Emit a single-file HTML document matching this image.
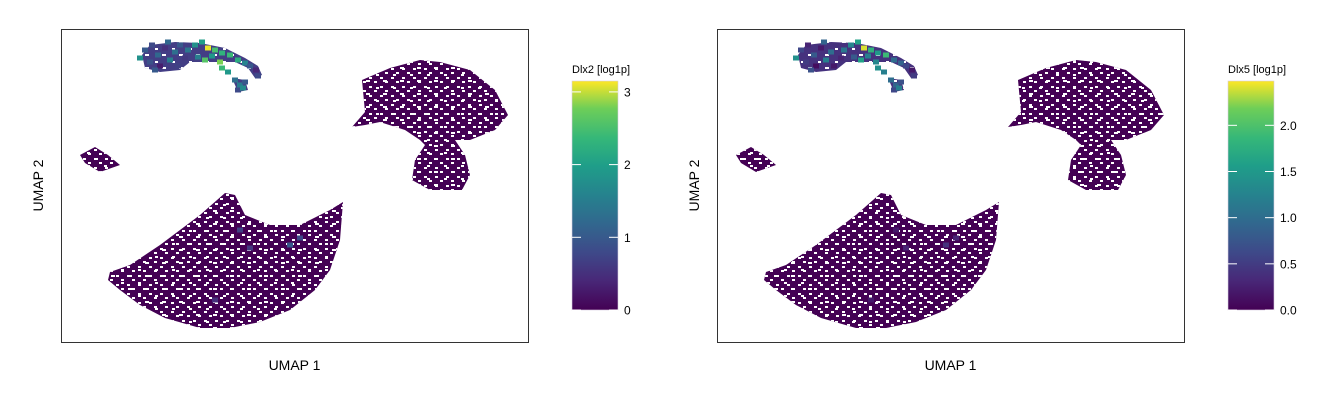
<!DOCTYPE html>
<html><head><meta charset="utf-8"><style>
html,body{margin:0;padding:0;background:#fff;}
svg{display:block;font-family:"Liberation Sans",sans-serif;}
</style></head><body>
<svg id="chart" width="1344" height="403" viewBox="0 0 1344 403">
<defs>
<linearGradient id="vir" x1="0" y1="1" x2="0" y2="0">
<stop offset="0" stop-color="#440154"/><stop offset="0.13" stop-color="#482878"/><stop offset="0.25" stop-color="#3e4989"/><stop offset="0.38" stop-color="#31688e"/><stop offset="0.5" stop-color="#26828e"/><stop offset="0.63" stop-color="#1f9e89"/><stop offset="0.75" stop-color="#35b779"/><stop offset="0.88" stop-color="#6ece58"/><stop offset="1" stop-color="#fde725"/>
</linearGradient>
<pattern id="speck" patternUnits="userSpaceOnUse" width="11" height="9">
<rect x="0" y="0" width="3" height="2" fill="#fff"/><rect x="6" y="5" width="3" height="2" fill="#fff"/>
</pattern>
<pattern id="speck2" patternUnits="userSpaceOnUse" width="17" height="13">
<rect x="9" y="2" width="4" height="2" fill="#fff"/><rect x="2" y="9" width="3" height="2" fill="#fff"/>
</pattern>
</defs>
</svg>
<script>
// cluster outlines in UMAP units (u1, u2)
const clusterBig = [[49,70],[69,77],[99,97],[139,127],[164,149],[174,147],[184,127],[209,117],[239,117],[269,132],[282,140],[279,102],[269,72],[254,52],[229,32],[199,20],[169,14],[139,14],[104,24],[79,37],[59,52],[47,62]];
const clusterRight = [[291,215],[304,230],[301,262],[329,274],[359,282],[379,280],[409,272],[434,252],[447,227],[434,212],[409,202],[394,202],[404,187],[409,167],[401,152],[369,152],[351,162],[354,182],[364,197],[359,202],[344,212],[319,220],[304,217]];
const clusterSmall = [[19,187],[34,195],[47,187],[59,177],[39,170],[24,179]];
const clusterTop = [[81,287],[89,297],[114,300],[139,299],[164,294],[184,284],[197,276],[201,267],[194,264],[187,274],[174,280],[149,280],[129,280],[119,272],[99,270],[84,274]];
const clusterHook = [[171,264],[184,262],[187,252],[177,250]];
// expressing cells
const cellU1 = [84,91,97,104,109,89,99,114,119,124,79,107,94,117,127,134,141,147,154,161,151,169,177,184,144,159,137,189,195,197,167,161,174,179,184,177,182,189,229,239,179,154];
const cellU2 = [292,297,287,294,282,280,276,290,297,284,284,300,272,276,292,297,300,294,292,289,286,287,282,279,282,280,285,276,272,266,270,274,262,257,260,252,254,94,97,104,112,42];
const dlx2 = [1.0,0.8,1.2,0.5,1.5,0.9,0.3,1.3,1.0,0.6,1.8,1.2,1.0,0.7,1.4,1.8,2.0,3.1,2.5,2.3,1.9,2.4,2.2,1.6,2.6,2.8,1.5,1.0,0.4,0.8,1.9,2.4,1.3,1.5,1.0,0.8,1.7,0.6,1.0,0.8,0.7,0.5];
const dlx5 = [0.6,0.3,0.8,0.2,1.2,0.5,0.1,1.0,0.4,0.3,1.4,0.9,0.7,0.2,1.1,1.3,1.6,2.4,1.8,1.5,1.2,1.9,1.0,0.9,1.6,1.3,0.8,0.6,0.2,0.5,1.2,1.4,1.0,0.9,0.7,0.6,1.2,0.3,0.4,0.3,0.2,0.2];
const ticks1 = [0,1,2,3];
const ticks2 = [0.0,0.5,1.0,1.5,2.0];
const max1 = 3.15, max2 = 2.48;

const NS="http://www.w3.org/2000/svg";
const svg=document.getElementById('chart');
function mk(t,a,p){const e=document.createElementNS(NS,t);for(const k in a)e.setAttribute(k,a[k]);(p||svg).appendChild(e);return e;}
const stops=[[0,[68,1,84]],[0.13,[72,40,120]],[0.25,[62,73,137]],[0.38,[49,104,142]],[0.5,[38,130,142]],[0.63,[31,158,137]],[0.75,[53,183,121]],[0.88,[110,206,88]],[1,[253,231,37]]];
function vir(t){t=Math.max(0,Math.min(1,t));for(let i=1;i<stops.length;i++){if(t<=stops[i][0]){const a=stops[i-1],b=stops[i];const f=(t-a[0])/(b[0]-a[0]);const c=a[1].map((v,j)=>Math.round(v+(b[1][j]-v)*f));return `rgb(${c})`;}}return 'rgb(253,231,37)';}

function panel(ox,name,vals,vmax,ticks,fmt,topFill){
  const g=mk('g',{});
  
  
  const W=467,H=313,X0=ox,Y0=29;
  const xs=u=>X0+u*W/467, ys=u=>Y0+H-u*H/313;
  const pts=a=>a.map(p=>xs(p[0])+','+ys(p[1])).join(' ');
  [[clusterBig,'cluster-main'],[clusterRight,'cluster-right'],[clusterSmall,'cluster-small']].forEach(([c,n])=>{
    const p=mk('polygon',{points:pts(c),fill:'#440154'},g);
    
    
    mk('polygon',{points:pts(c),fill:'url(#speck)'},g);
    mk('polygon',{points:pts(c),fill:'url(#speck2)'},g);
  });
  [[clusterTop,'cluster-top'],[clusterHook,'cluster-hook']].forEach(([c,n])=>{
    const p=mk('polygon',{points:pts(c),fill:topFill},g);
    
    
    mk('polygon',{points:pts(c),fill:'url(#speck2)'},g);
  });
  for(let i=0;i<cellU1.length;i++){
    const r=mk('rect',{x:xs(cellU1[i])-3,y:ys(cellU2[i])-2.5,width:6,height:5,fill:vir(vals[i]/vmax)},g);
    
    
  }
  const fr=mk('rect',{x:X0+0.5,y:Y0+0.5,width:W,height:H,fill:'none',stroke:'#333','stroke-width':1},g);
  
  
  const xl=mk('text',{x:X0+W/2,y:370,'font-size':14,'text-anchor':'middle',fill:'#000'},g);xl.textContent='UMAP 1';
  
  
  const yl=mk('text',{x:0,y:0,'font-size':14,'text-anchor':'middle',fill:'#000',transform:`translate(${X0-18},${Y0+H/2}) rotate(-90)`},g);yl.textContent='UMAP 2';
  
  
  // colorbar
  const bx=X0+511,by0=310,bTop=81;
  const cs=v=>by0-v*(by0-bTop)/vmax;
  const cb=mk('rect',{x:bx,y:bTop,width:46,height:by0-bTop,fill:'url(#vir)',stroke:'#d8cce0','stroke-width':0.6},g);
  
  
  const ct=mk('text',{x:bx,y:73,'font-size':11,fill:'#000'},g);ct.textContent=name+' [log1p]';
  
  
  ticks.forEach(t=>{
    const y=cs(t);
    mk('line',{x1:bx,x2:bx+9,y1:y,y2:y,stroke:'#fff','stroke-width':1},g);
    mk('line',{x1:bx+37,x2:bx+46,y1:y,y2:y,stroke:'#fff','stroke-width':1},g);
    const tl=mk('text',{x:bx+52,y:y+4.5,'font-size':12,fill:'#000'},g);tl.textContent=fmt(t);
    
    
  });
}
panel(61,'Dlx2',dlx2,max1,ticks1,t=>String(t),'#433e85');
panel(717,'Dlx5',dlx5,max2,ticks2,t=>t.toFixed(1),'#46327e');
</script>
</body></html>
